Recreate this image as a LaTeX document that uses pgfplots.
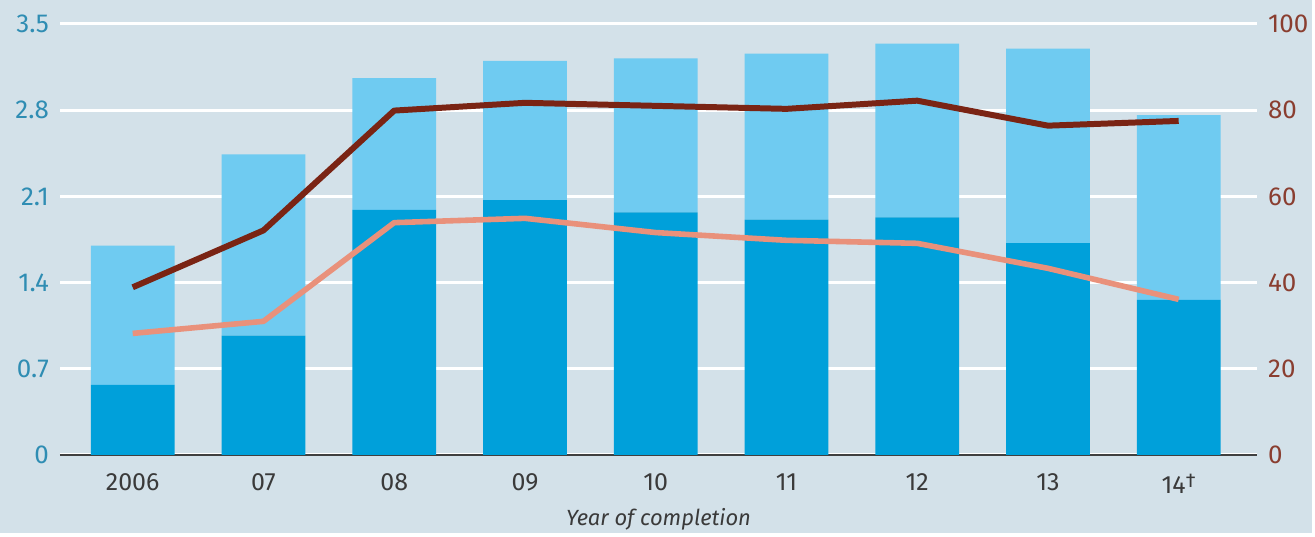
\documentclass[border=0pt]{standalone}
\usepackage{pgfplots}
\pgfplotsset{compat=1.18}
\usepackage{fontspec}
\setmainfont{Fira Sans}
\definecolor{bg}{HTML}{D3E1E9}
\definecolor{darkbar}{HTML}{00A0DA}
\definecolor{lightbar}{HTML}{6FCBF1}
\definecolor{brownline}{HTML}{7A2414}
\definecolor{salmon}{HTML}{E9917B}
\definecolor{lefttxt}{HTML}{2F8DB3}
\definecolor{righttxt}{HTML}{8A3E30}
\definecolor{xtxt}{HTML}{3A3A3A}
\begin{document}
\begin{tikzpicture}[x=1pt,y=1pt]
\fill[bg] (0,0) rectangle (657.5,267);
\begin{axis}[
  at={(30pt,39pt)}, anchor=south west,
  scale only axis, width=600pt, height=216pt,
  xmin=-0.557, xmax=8.60, ymin=0, ymax=3.5,
  ytick={0,0.7,1.4,2.1,2.8,3.5},
  yticklabels={0,0.7,1.4,2.1,2.8,3.5},
  xtick={0,1,2,3,4,5,6,7,8},
  xticklabels={2006,07,08,09,10,11,12,13,14\raisebox{3pt}{\fontsize{10}{12}\selectfont †}},
  ymajorgrids, grid style={white, line width=1.5pt},
  separate axis lines,
  axis x line*=bottom, axis y line*=left,
  x axis line style={draw=black!75, line width=0.9pt, -},
  y axis line style={draw=none},
  major tick length=0pt,
  yticklabel style={text=lefttxt, font=\fontsize{13}{15}\selectfont, anchor=east, xshift=-2pt},
  xticklabel style={text=xtxt, font=\fontsize{12.5}{15}\selectfont, yshift=-6pt},
  ybar stacked, bar width=42pt,
  clip=false,
]
\addplot[fill=darkbar, draw=none] coordinates {(0,0.57) (1,0.97) (2,1.99) (3,2.07) (4,1.97) (5,1.91) (6,1.93) (7,1.72) (8,1.26)};
\addplot[fill=lightbar, draw=none] coordinates {(0,1.13) (1,1.47) (2,1.07) (3,1.13) (4,1.25) (5,1.35) (6,1.41) (7,1.58) (8,1.50)};
\node[text=xtxt, font=\fontsize{11}{13}\selectfont\itshape] at (rel axis cs:0.5,0) [yshift=-32pt] {Year of completion};
\end{axis}
\begin{axis}[
  at={(30pt,39pt)}, anchor=south west,
  scale only axis, width=600pt, height=216pt,
  xmin=-0.557, xmax=8.60, ymin=0, ymax=100,
  ytick={0,20,40,60,80,100},
  yticklabels={0,20,40,60,80,100},
  axis y line*=right, axis x line=none,
  y axis line style={draw=none},
  major tick length=0pt,
  yticklabel style={text=righttxt, font=\fontsize{13}{15}\selectfont, anchor=west, xshift=2pt},
  clip=false,
]
\addplot[brownline, line width=3pt, line join=round] coordinates {(0,38.9) (1,52.1) (2,79.9) (3,81.7) (4,81.0) (5,80.3) (6,82.2) (7,76.4) (8,77.5)};
\addplot[salmon, line width=2.8pt, line join=round] coordinates {(0,28.2) (1,31.0) (2,53.9) (3,54.9) (4,51.6) (5,49.8) (6,49.1) (7,43.3) (8,36.1)};
\end{axis}
\end{tikzpicture}
\end{document}
